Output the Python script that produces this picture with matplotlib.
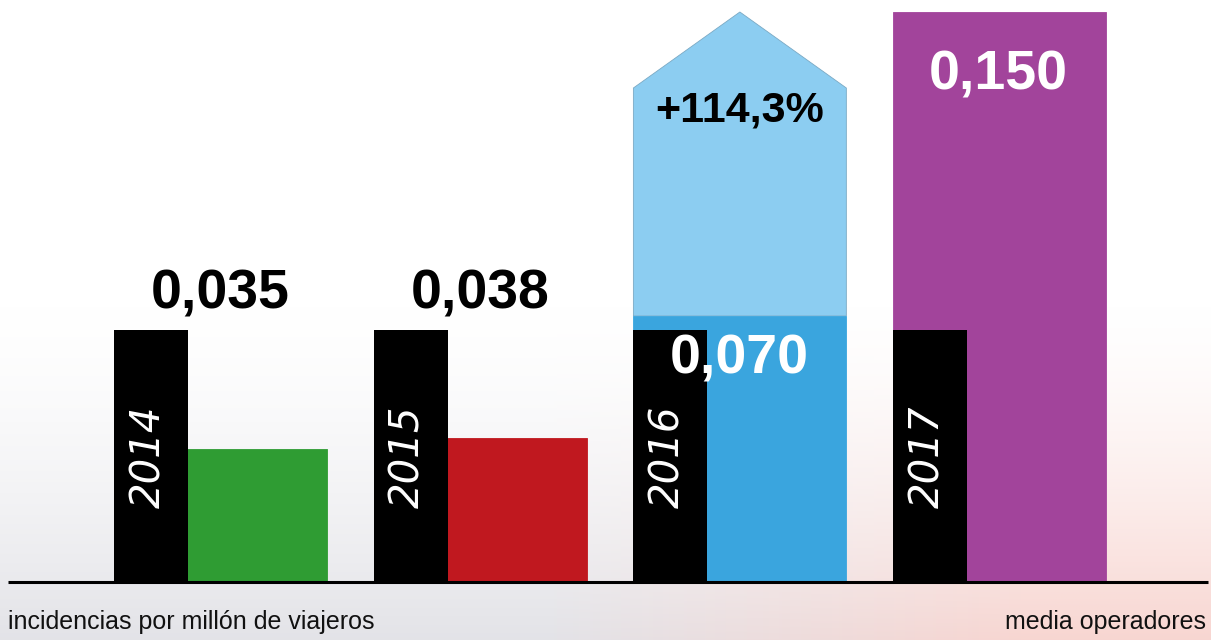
import matplotlib.pyplot as plt
import numpy as np
from matplotlib.patches import Polygon

# incidencias por millón de viajeros
years = ['2014', '2015', '2016', '2017']
values = [0.035, 0.038, 0.070, 0.150]
value_labels = ['0,035', '0,038', '0,070', '0,150']
bar_colors = ['#2f9c33', '#c0181f', '#3aa5de', '#a2449b']
increase_label = '+114,3%'
arrow_color = '#8ccdf1'

narrow = ['Liberation Sans Narrow', 'Liberation Sans', 'DejaVu Sans']

tab_h = 0.0663      # height of the black year tabs
tab_w = 0.285       # black tab width (group units)
bar_w = 0.535       # visible coloured part right of the tab
px = 3800.0         # pixels per unit on y

fig = plt.figure(figsize=(12.11, 6.4), dpi=100)
ax = fig.add_axes([0, 0, 1, 1])
ax.set_xlim(-151 / 259.7, (1211 - 151) / 259.7)
ax.set_ylim(-58 / px, 582 / px)
ax.axis('off')

# soft photo-like haze behind the lower part
h, w = 200, 400
yy = np.linspace(0, 1, h)[:, None]
xx = np.linspace(0, 1, w)[None, :]
grey = np.array([0.88, 0.88, 0.90])
pink = np.array([0.97, 0.82, 0.80])
mix = np.clip((xx - 0.45) / 0.4, 0, 1)[..., None]
rgb = grey * (1 - mix) + pink * mix
alpha = np.clip((1 - yy) ** 1.5, 0, 1) * 0.9
img = np.dstack([np.broadcast_to(rgb, (h, w, 3)), np.broadcast_to(alpha[..., None], (h, w, 1))])
ax.imshow(img, extent=[ax.get_xlim()[0], ax.get_xlim()[1], -58 / px, 0.075],
          origin='lower', aspect='auto', zorder=0)

x = np.arange(len(years))
left = x - tab_w / 2

# increase arrow from 2016 up to the operators' average
right = left[2] + tab_w + bar_w
mid = (left[2] + right) / 2
shoulder = values[3] - 0.020
arrow = Polygon([(left[2], values[2]), (right, values[2]), (right, shoulder),
                 (mid, values[3]), (left[2], shoulder)],
                closed=True, facecolor=arrow_color, edgecolor='#7aa9c4', lw=0.6, zorder=1)
ax.add_patch(arrow)

ax.bar(left, values, width=tab_w + bar_w, align='edge', color=bar_colors,
       edgecolor=bar_colors, lw=0.6, zorder=2)
ax.bar(left, tab_h, width=tab_w, align='edge', color='black', zorder=3)

for i, yr in enumerate(years):
    ax.text(x[i] - 0.01, 125 / px, yr, rotation=90, color='white', fontsize=29,
            style='italic', family='DejaVu Sans', ha='center', va='center', zorder=4)

# value labels: above the tab for the small bars, inside for the tall ones
for i, lab in enumerate(value_labels):
    if values[i] < tab_h:
        ax.text(x[i] + 0.268, tab_h + 22 / px, lab, color='black', fontsize=40,
                weight='bold', family=narrow, ha='center', va='baseline', zorder=5)
    elif i == 2:
        ax.text(x[i] + 0.266, values[i] - 57 / px, lab, color='white', fontsize=40,
                weight='bold', family=narrow, ha='center', va='baseline', zorder=5)
    else:
        ax.text(x[i] + 0.264, values[i] - 78 / px, lab, color='white', fontsize=40,
                weight='bold', family=narrow, ha='center', va='baseline', zorder=5)

ax.text(mid, shoulder - 34 / px, increase_label, color='black', fontsize=31,
        weight='bold', family=narrow, ha='center', va='baseline', zorder=5)

# baseline
ax.plot([ax.get_xlim()[0] + 8 / 259.7, ax.get_xlim()[1] - 3 / 259.7], [0, 0],
        color='black', lw=2.2, solid_capstyle='butt', zorder=6)

fig.text(8 / 1211, 1 - 622 / 640, 'incidencias por millón de viajeros', fontsize=18,
         family=narrow, ha='left', va='center', color='#111111')
fig.text(1206 / 1211, 1 - 622 / 640, 'media operadores', fontsize=18,
         family=narrow, ha='right', va='center', color='#111111')

plt.savefig('out.png', dpi=100)
